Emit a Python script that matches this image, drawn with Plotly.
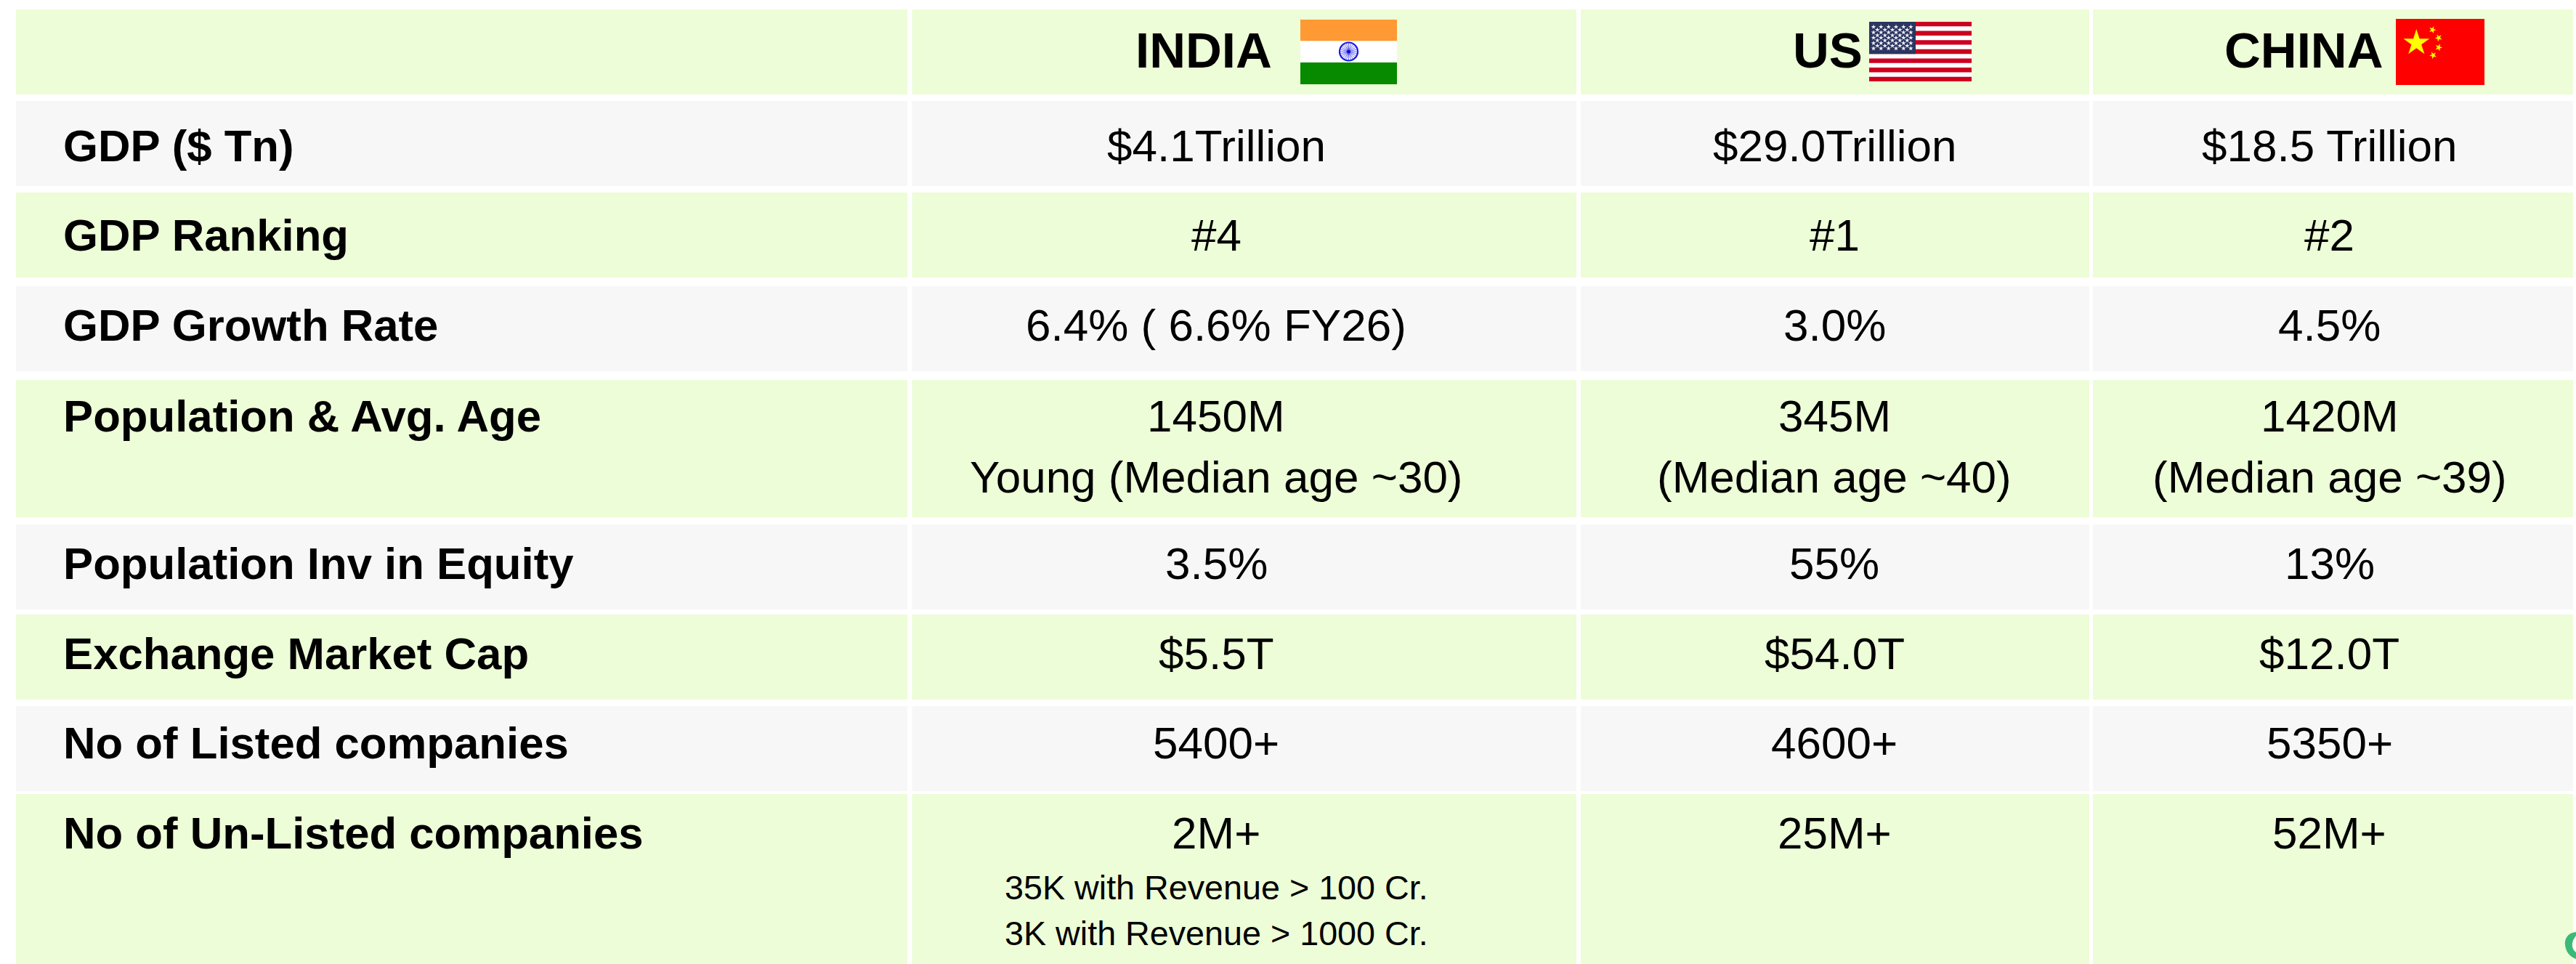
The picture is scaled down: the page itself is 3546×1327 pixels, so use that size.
import numpy as np
import plotly.graph_objects as go

# ---- content ----
columns = ["INDIA", "US", "CHINA"]
row_labels = ["GDP ($ Tn)", "GDP Ranking", "GDP Growth Rate", "Population & Avg. Age",
              "Population Inv in Equity", "Exchange Market Cap", "No of Listed companies",
              "No of Un-Listed companies"]
india = ["$4.1Trillion", "#4", "6.4% ( 6.6% FY26)", "1450M\nYoung (Median age ~30)", "3.5%", "$5.5T", "5400+", "2M+"]
us = ["$29.0Trillion", "#1", "3.0%", "345M\n(Median age ~40)", "55%", "$54.0T", "4600+", "25M+"]
china = ["$18.5 Trillion", "#2", "4.5%", "1420M\n(Median age ~39)", "13%", "$12.0T", "5350+", "52M+"]
india_notes = ["35K with Revenue > 100 Cr.", "3K with Revenue > 1000 Cr."]

# ---- layout geometry (canvas pixels) ----
W, H = 3546, 1327
GREEN, GREY = "#EDFDD7", "#F7F7F7"
col_edges = [(22, 1249), (1255.5, 2170), (2176, 2876), (2881, 3542)]
row_edges = [(13, 130), (139, 256), (265, 382), (394, 511), (523, 712),
             (722, 839), (846, 963), (972, 1089), (1093, 1327)]
row_fill = [GREEN, GREY, GREEN, GREY, GREEN, GREY, GREEN, GREY, GREEN]
col_text_x = [1674, 2525, 3206.5]
row_text_y = [200, 323, 447.5, 572, 775.5, 899.5, 1022, 1146.5]
line2_y = 656
header_x = [1657, 2516, 3171]
header_y = 69
note_y = [1222, 1285]
FONT = "Liberation Sans"

shapes = []


def rect(x0, y0, x1, y1, color):
    shapes.append(dict(type="rect", xref="x", yref="y", x0=x0, y0=y0, x1=x1, y1=y1,
                       fillcolor=color, line_width=0, layer="below"))


for (y0, y1), f in zip(row_edges, row_fill):
    for x0, x1 in col_edges:
        rect(x0, y0, x1, y1, f)

# India flag
rect(1790, 27, 1923, 56.5, "#FF9933")
rect(1790, 56.5, 1923, 86, "#FFFFFF")
rect(1790, 86, 1923, 116, "#078A00")
wc = (1856.5, 71)
shapes.append(dict(type="circle", xref="x", yref="y", x0=wc[0] - 12.5, y0=wc[1] - 12.5,
                   x1=wc[0] + 12.5, y1=wc[1] + 12.5, line=dict(color="#1414E8", width=2.2),
                   fillcolor="#FFFFFF", layer="below"))
spokes = "".join(f"M{wc[0]},{wc[1]}L{wc[0] + 12 * np.cos(a):.2f},{wc[1] + 12 * np.sin(a):.2f}"
                 for a in np.arange(24) * 2 * np.pi / 24)
shapes.append(dict(type="path", path=spokes, line=dict(color="#5A5AF0", width=0.9), layer="below"))
shapes.append(dict(type="circle", xref="x", yref="y", x0=wc[0] - 2.6, y0=wc[1] - 2.6,
                   x1=wc[0] + 2.6, y1=wc[1] + 2.6, line_width=0, fillcolor="#1010D0", layer="below"))

# US flag
ux0, ux1, uy0, uy1 = 2573, 2714, 30, 112
rect(ux0, uy0, ux1, uy1, "#FFFFFF")
sh = (uy1 - uy0) / 13
for i in range(0, 13, 2):
    rect(ux0, uy0 + i * sh, ux1, uy0 + (i + 1) * sh, "#CC0020")
rect(ux0, uy0, 2637, uy0 + 7 * sh, "#2A3560")

# China flag
rect(3298, 26, 3420, 117, "#FF0000")

# Corner fragment
shapes.append(dict(type="path", layer="above", line_width=0, fillcolor="#3CB878",
                   path="M3546,1283 C3534,1284 3530,1293 3531,1301 C3532,1311 3539,1318 3546,1320 "
                        "L3546,1311 C3540,1306 3538,1298 3546,1288 Z"))

fig = go.Figure()

# US stars
sx_a = [2579, 2589.3, 2599.7, 2610, 2620.3, 2630.3]
sx_b = [2584.3, 2594.7, 2605, 2615.3, 2625.3]
sy = [37, 41, 44.7, 48.7, 52, 55.7, 59.3, 63, 66.7]
star_x, star_y = [], []
for i, y in enumerate(sy):
    for x in (sx_a if i % 2 == 0 else sx_b):
        star_x.append(x)
        star_y.append(y)
fig.add_trace(go.Scatter(x=star_x, y=star_y, mode="markers", hoverinfo="skip", showlegend=False,
                         marker=dict(symbol="star", size=5, color="#F2F2F8", line_width=0)))

# China stars
fig.add_trace(go.Scatter(x=[3326.3], y=[59], mode="markers", hoverinfo="skip", showlegend=False,
                         marker=dict(symbol="star", size=27, color="#FFFF00", line_width=0)))
fig.add_trace(go.Scatter(x=[3348.5, 3356.8, 3357, 3349.3], y=[41, 52, 65.3, 76],
                         mode="markers", hoverinfo="skip", showlegend=False,
                         marker=dict(symbol="star", size=7.5, color="#FFFF00", line_width=0,
                                     angle=[20, 45, 20, 45])))

annotations = []


def text(x, y, s, size, bold=False, anchor="center"):
    annotations.append(dict(x=x, y=y, xref="x", yref="y", text=f"<b>{s}</b>" if bold else s,
                            showarrow=False, xanchor=anchor, yanchor="middle",
                            font=dict(family=FONT, size=size, color="#000000"),
                            borderpad=0, borderwidth=0))


for name, x in zip(columns, header_x):
    text(x, header_y, name, 69, bold=True)
for label, y in zip(row_labels, row_text_y):
    text(87, y, label.replace("&", "&amp;"), 61.7, bold=True, anchor="left")
for vals, x in zip((india, us, china), col_text_x):
    for v, y in zip(vals, row_text_y):
        parts = v.split("\n")
        text(x, y, parts[0], 62)
        if len(parts) > 1:
            text(x, line2_y, parts[1], 62)
for note, y in zip(india_notes, note_y):
    text(col_text_x[0], y, note.replace(">", "&gt;"), 46.7)

fig.update_layout(
    width=W, height=H, margin=dict(l=0, r=0, t=0, b=0),
    paper_bgcolor="#FFFFFF", plot_bgcolor="#FFFFFF",
    xaxis=dict(range=[0, W], visible=False, fixedrange=True),
    yaxis=dict(range=[H, 0], visible=False, fixedrange=True),
    shapes=shapes, annotations=annotations, showlegend=False,
)
fig.write_html("out.html", config={"displayModeBar": False},
               post_script="document.body.style.margin='0';document.body.style.overflow='hidden';")
